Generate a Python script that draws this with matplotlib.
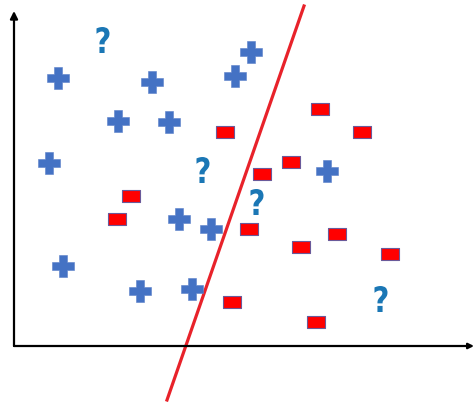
import matplotlib
matplotlib.use('Agg')
import matplotlib.pyplot as plt
from matplotlib.path import Path
from matplotlib.patches import PathPatch
from matplotlib.textpath import TextPath
from matplotlib.font_manager import FontProperties
from matplotlib.transforms import Affine2D

# positive class (+), negative class (-), unlabeled (?) points
plus_x = [44, 138, 104, 155, 35, 221, 237, 49, 126, 178, 165, 197, 313]
plus_y = [268, 264, 225, 224, 183, 270, 294, 80, 55, 57, 127, 117, 175]
minus_x = [211, 306, 348, 117, 103, 248, 277, 235, 287, 323, 376, 218, 302]
minus_y = [214, 237, 214, 150, 127, 172, 184, 117, 99, 112, 92, 44, 24]
query_x = [89, 189, 243, 367]
query_y = [306, 176, 144, 47]
# separating line
line_x = [290, 153]
line_y = [340, -54]

fig = plt.figure(figsize=(4.75, 4.03), dpi=100)
ax = fig.add_axes([0, 0, 1, 1])
ax.set_xlim(-14, 461)
ax.set_ylim(-57, 346)
ax.axis('off')

# axes with arrow heads
ax.annotate('', xy=(0, 335), xytext=(0, 0),
            arrowprops=dict(arrowstyle='-|>', color='black', lw=1.6,
                            mutation_scale=11, shrinkA=0, shrinkB=0))
ax.annotate('', xy=(460, 0), xytext=(0, 0),
            arrowprops=dict(arrowstyle='-|>', color='black', lw=1.6,
                            mutation_scale=8, shrinkA=0, shrinkB=0))

ax.plot(line_x, line_y, color='#e8222a', lw=2.3, zorder=2)

rect = Path([(-8.5, -5.5), (8.5, -5.5), (8.5, 5.5), (-8.5, 5.5), (-8.5, -5.5)],
            [Path.MOVETO, Path.LINETO, Path.LINETO, Path.LINETO, Path.CLOSEPOLY])
ax.scatter(plus_x, plus_y, marker='P', s=240, color='#4472c4',
           edgecolors='#5a7fc8', linewidths=0.4, zorder=3)
ax.scatter(minus_x, minus_y, marker=rect, s=160, color='#ff0000',
           edgecolors='#6a5a9a', linewidths=0.8, zorder=3)

# condensed bold question mark glyph, sized in data units
qpath = TextPath((0, 0), '?', size=40,
                 prop=FontProperties(family='DejaVu Sans', weight='bold'))
ext = qpath.get_extents()
qnorm = Affine2D().translate(-(ext.x0 + ext.x1) / 2, -(ext.y0 + ext.y1) / 2) \
    .scale(13 / ext.width, 26 / ext.height)
for qx, qy in zip(query_x, query_y):
    p = qpath.transformed(qnorm + Affine2D().translate(qx, qy))
    ax.add_patch(PathPatch(p, facecolor='#1b77b5', edgecolor='none', zorder=3))

fig.savefig('out.png', dpi=100)
